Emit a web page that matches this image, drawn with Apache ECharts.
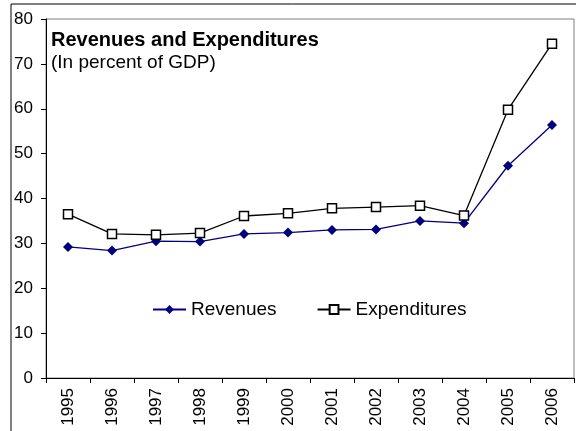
<!DOCTYPE html>
<html>
<head>
<meta charset="utf-8">
<script src="https://cdn.jsdelivr.net/npm/echarts@6/dist/echarts.min.js"></script>
<style>
  html, body { margin: 0; padding: 0; background: #fff; }
  #mainChart { width: 576px; height: 431px; }
</style>
</head>
<body>
<div id="mainChart"></div>
<script>
// data
var years = ["1995", "1996", "1997", "1998", "1999", "2000", "2001", "2002", "2003", "2004", "2005", "2006"];
var revenues = [29.2, 28.4, 30.5, 30.4, 32.1, 32.4, 33.0, 33.1, 35.0, 34.5, 47.3, 56.4];
var expenditures = [36.5, 32.1, 31.9, 32.3, 36.1, 36.7, 37.8, 38.1, 38.4, 36.2, 59.8, 74.5];
var yTicks = { min: 0, max: 80, interval: 10 };

var font = "'Liberation Sans', Arial, sans-serif";
var chart = echarts.init(document.getElementById("mainChart"));

var option = {
  animation: false,
  backgroundColor: "#fff",
  title: {
    text: "Revenues and Expenditures",
    subtext: "(In percent of GDP)",
    left: 51,
    top: 30,
    padding: 0,
    itemGap: 3,
    textStyle: { fontFamily: font, fontSize: 20, fontWeight: "bold", color: "#000" },
    subtextStyle: { fontFamily: font, fontSize: 19, color: "#000" },
  },
  legend: {
    left: 152,
    top: 300,
    padding: 0,
    itemWidth: 33,
    itemHeight: 11,
    itemGap: 40,
    textStyle: { fontFamily: font, fontSize: 19, color: "#000" },
    data: ["Revenues", "Expenditures"],
  },
  grid: {
    left: 46,
    right: 2,
    top: 19,
    bottom: 53,
    show: true,
    borderColor: "#808080",
    borderWidth: 1,
  },
  xAxis: {
    type: "category",
    data: years,
    boundaryGap: true,
    axisLine: { lineStyle: { color: "#000", width: 1 } },
    axisTick: { show: true, interval: 0, length: 5, lineStyle: { color: "#000" } },
    axisLabel: { interval: 0, rotate: 90, margin: 10, fontFamily: font, fontSize: 17, color: "#000" },
    splitLine: { show: false },
  },
  yAxis: {
    type: "value",
    min: yTicks.min,
    max: yTicks.max,
    interval: yTicks.interval,
    axisLine: { show: true, lineStyle: { color: "#000", width: 1 } },
    axisTick: { show: true, length: 5, lineStyle: { color: "#000" } },
    axisLabel: { margin: 13, fontFamily: font, fontSize: 17, color: "#000" },
    splitLine: { show: false },
  },
  graphic: [
    { type: "line", shape: { x1: 11, y1: 4, x2: 576, y2: 4 }, style: { stroke: "#000", lineWidth: 1 } },
    { type: "line", shape: { x1: 11, y1: 4, x2: 11, y2: 431 }, style: { stroke: "#000", lineWidth: 1 } },
  ],
  series: [
    {
      name: "Revenues",
      type: "line",
      data: revenues,
      symbol: "diamond",
      symbolSize: 10,
      itemStyle: { color: "#000080" },
      lineStyle: { color: "#000080", width: 1.3 },
    },
    {
      name: "Expenditures",
      type: "line",
      data: expenditures,
      symbol: "rect",
      symbolSize: 9,
      itemStyle: { color: "#fff", borderColor: "#000", borderWidth: 1.5 },
      lineStyle: { color: "#000", width: 1.3 },
    },
  ],
};

chart.setOption(option);
</script>
</body>
</html>
